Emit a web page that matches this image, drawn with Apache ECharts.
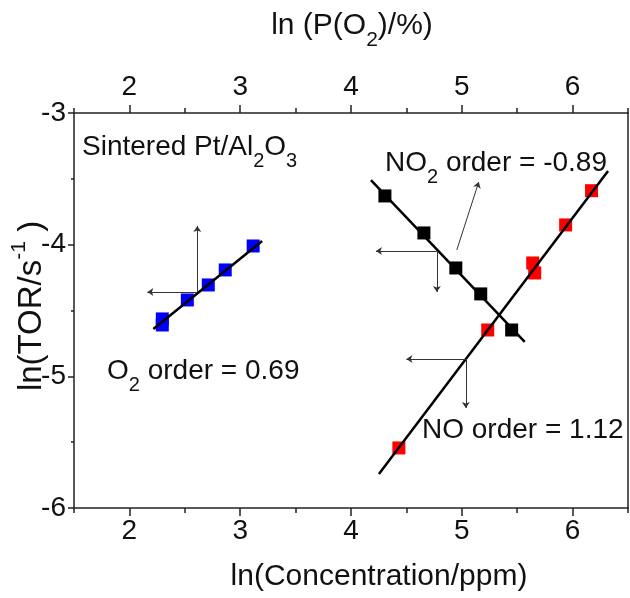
<!DOCTYPE html>
<html><head><meta charset="utf-8">
<script src="https://cdn.jsdelivr.net/npm/echarts@6/dist/echarts.min.js"></script>
<style>html,body{margin:0;padding:0;background:#fff}#c{width:630px;height:598px}</style>
</head><body><div id="c"></div>
<script>
// ---- tick values ----
const xMajor = [2, 3, 4, 5, 6];
const xMinor = [1.5, 2.5, 3.5, 4.5, 5.5, 6.5];
const yMajor = [-6, -5, -4, -3];
const yMinor = [-5.5, -4.5, -3.5];

// ---- data ----
const o2X  = [2.297, 2.297, 2.523, 2.712, 2.865, 3.117];
const o2Y  = [-4.564, -4.610, -4.420, -4.306, -4.192, -4.010];
const no2X = [4.306, 4.658, 4.946, 5.171, 5.450];
const no2Y = [-3.630, -3.911, -4.177, -4.374, -4.648];
const noX  = [4.432, 5.234, 5.640, 5.658, 5.937, 6.171];
const noY  = [-5.544, -4.648, -4.139, -4.215, -3.850, -3.590];

// ---- linear fits (end points) ----
const o2FitX  = [2.216, 3.198];  const o2FitY  = [-4.640, -3.972];
const no2FitX = [4.180, 5.568];  const no2FitY = [-3.509, -4.739];
const noFitX  = [4.252, 6.320];  const noFitY  = [-5.741, -3.440];

// ---- annotation arrows [from, to] ----
const arrows = [
  [[2.613, -4.359], [2.613, -3.858]],
  [[2.613, -4.359], [2.162, -4.359]],
  [[4.775, -4.048], [4.225, -4.048]],
  [[4.775, -4.048], [4.775, -4.359]],
  [[4.955, -4.040], [5.153, -3.524]],
  [[5.036, -4.868], [4.500, -4.868]],
  [[5.036, -4.868], [5.036, -5.240]]
];

const FONT = 'Liberation Sans, Arial, Helvetica, sans-serif';
const pairs = (xs, ys) => xs.map((x, i) => [x, ys[i]]);
const AX = '#222';

function xAx(pos, vals, len, labels) {
  return {
    type: 'value', position: pos, min: 1.5, max: 6.5,
    axisLine: {show: !!labels, onZero: false, lineStyle: {color: AX, width: 1.5}},
    axisTick: {show: true, inside: false, length: len, customValues: vals, lineStyle: {color: AX, width: 1.5}},
    axisLabel: labels ? {show: true, customValues: vals, fontSize: 28, fontFamily: FONT, color: '#111', margin: pos === 'top' ? 12 : 9} : {show: false},
    splitLine: {show: false}
  };
}
function yAx(pos, vals, len, labels, showLine) {
  return {
    type: 'value', position: pos, min: -6, max: -3,
    axisLine: {show: showLine, onZero: false, lineStyle: {color: AX, width: 1.5}},
    axisTick: {show: len > 0, inside: false, length: len, customValues: vals, lineStyle: {color: AX, width: 1.5}},
    axisLabel: labels ? {show: true, customValues: vals, fontSize: 28, fontFamily: FONT, color: '#111', margin: 8} : {show: false},
    splitLine: {show: false}
  };
}

const sub = {fontSize: 20, fontFamily: FONT, fill: '#111', lineHeight: 20, padding: [18, 0, 0, 0], verticalAlign: 'top'};
const main28 = {fontSize: 28, fontFamily: FONT, fill: '#111', lineHeight: 28, verticalAlign: 'top'};
const main30 = {fontSize: 30, fontFamily: FONT, fill: '#111', lineHeight: 30, verticalAlign: 'top'};
const sub30 = Object.assign({}, sub, {fontSize: 21, lineHeight: 21, padding: [19, 0, 0, 0]});

function txt(x, y, text, rich, align) {
  return {type: 'text', x: x, y: y, z: 100, silent: true,
    style: {text: text, rich: rich, align: align || 'left', verticalAlign: 'top', fill: '#111', fontFamily: FONT, fontSize: 28}};
}

const sq = (color) => ({color: color, opacity: 1});

const chart = echarts.init(document.getElementById('c'), null, {renderer: 'canvas'});
chart.setOption({
  animation: false,
  backgroundColor: '#fff',
  grid: {left: 74, right: 2, top: 113, bottom: 90, show: false},
  xAxis: [
    xAx('bottom', xMajor, 8, true),
    xAx('top', xMajor, 8, true),
    xAx('bottom', xMinor, 5, false),
    xAx('top', xMinor, 5, false)
  ],
  yAxis: [
    yAx('left', yMajor, 6, true, true),
    yAx('right', [], 0, false, true),
    yAx('left', yMinor, 3, false, false)
  ],
  series: [
    {type: 'scatter', data: pairs(o2X, o2Y), symbol: 'rect', symbolSize: 13, itemStyle: sq('#0000ff'), z: 2},
    {type: 'scatter', data: pairs(no2X, no2Y), symbol: 'rect', symbolSize: 13, itemStyle: sq('#000000'), z: 2},
    {type: 'scatter', data: pairs(noX, noY), symbol: 'rect', symbolSize: 13, itemStyle: sq('#ff0000'), z: 2},
    {type: 'line', data: pairs(o2FitX, o2FitY), showSymbol: false, lineStyle: {color: '#000', width: 2.5}, z: 3},
    {type: 'line', data: pairs(no2FitX, no2FitY), showSymbol: false, lineStyle: {color: '#000', width: 2.5}, z: 3},
    {type: 'line', data: pairs(noFitX, noFitY), showSymbol: false, lineStyle: {color: '#000', width: 2.5}, z: 3,
      markLine: {
        silent: true, animation: false, symbol: ['none', 'arrow'], symbolSize: 6,
        label: {show: false},
        lineStyle: {color: '#333', width: 1, type: 'solid'},
        emphasis: {disabled: true},
        data: arrows.map(a => [{coord: a[0]}, {coord: a[1]}])
      }
    }
  ],
  graphic: [
    txt(82, 133, '{a|Sintered Pt/Al}{s|2}{a|O}{s|3}', {a: main28, s: sub}),
    txt(385, 149, '{a|NO}{s|2}{a| order = -0.89}', {a: main28, s: sub}),
    txt(107, 357, '{a|O}{s|2}{a| order = 0.69}', {a: main28, s: sub}),
    txt(422, 416, '{a|NO order = 1.12}', {a: main28, s: sub}),
    txt(352, 11, '{a|ln (P(O}{s|2}{a|)/%)}', {a: main30, s: sub30}, 'center'),
    txt(379, 562, '{a|ln(Concentration/ppm)}', {a: main30, s: sub30}, 'center'),
    {type: 'text', x: 9, y: 306, rotation: Math.PI / 2, z: 100, silent: true,
      style: {text: '{a|ln(TOR/s}{p|-1}{a| )}', align: 'center', verticalAlign: 'top',
        rich: {a: Object.assign({}, main30, {fontSize: 33, lineHeight: 33, padding: [6, 0, 0, 0]}), p: {fontSize: 21, fontFamily: FONT, fill: '#111', lineHeight: 21, verticalAlign: 'top'}}}}
  ]
});
</script>
</body></html>
